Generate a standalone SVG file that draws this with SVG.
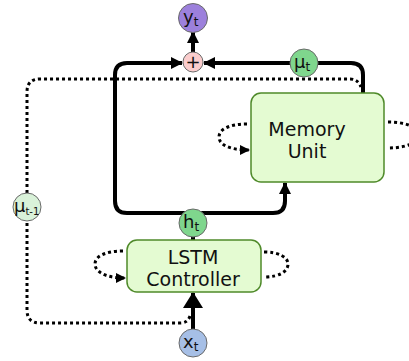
<svg xmlns="http://www.w3.org/2000/svg" width="409" height="361" viewBox="0 0 409 361">
  <defs>
    <marker id="head" viewBox="0 0 12 12" refX="11" refY="6" markerWidth="12" markerHeight="12" markerUnits="userSpaceOnUse" orient="auto">
      <path d="M0,0 L12,6 L0,12 Z" fill="#000"/>
    </marker>
    <marker id="headBig" viewBox="0 0 16 20" refX="15" refY="10" markerWidth="16" markerHeight="20" markerUnits="userSpaceOnUse" orient="auto">
      <path d="M0,0 L16,10 L0,20 Z" fill="#000"/>
    </marker>
    <marker id="dotHead" viewBox="0 0 10 10" refX="9" refY="5" markerWidth="10" markerHeight="10" markerUnits="userSpaceOnUse" orient="auto">
      <path d="M0,0 L10,5 L0,10 Z" fill="#000"/>
    </marker>
  </defs>
  <style>
    .box { fill: #e4fbd2; stroke: #4f8a2a; stroke-width: 1.5; }
    .node { stroke: #6a6a6a; stroke-width: 1; }
    .solid { fill: none; stroke: #000; stroke-width: 4; }
    .dotted { fill: none; stroke: #000; stroke-width: 3; stroke-dasharray: 3 3; }
    .label { font-family: "DejaVu Sans", sans-serif; font-size: 19px; fill: #111; text-anchor: middle; }
    .sym { font-family: "DejaVu Sans", sans-serif; font-size: 18px; fill: #111; }
    .sub { font-size: 12px; }
  </style>

  <!-- connectors -->
  <g id="connectors">
    <!-- memory read-back path (dotted) -->
    <path class="dotted" d="M190,316 Q188,323 180,323 L40,323 Q27,323 27,310 L27,221"/>
    <path class="dotted" d="M27,193 L27,92 Q27,79 40,79 L350,79 Q358,79 361,87"/>
    <!-- recurrent self-loops -->
    <path class="dotted" d="M123,251 C104,251 95,257 95,264 C95,271 104,278 125,278" marker-end="url(#dotHead)"/>
    <path class="dotted" d="M264,252 C280,252 288,258 288,264 C288,271 280,277 264,277"/>
    <path class="dotted" d="M247,124 C228,124 219,130 219,137 C219,144 228,150 249,150" marker-end="url(#dotHead)"/>
    <path class="dotted" d="M388,122 C408,122 418,128 418,135 C418,142 408,148 388,148"/>
    <!-- controller output bus -->
    <path class="solid" d="M193,213 L127,213 Q115,213 115,201 L115,75 Q115,63 127,63 L182,63" marker-end="url(#head)"/>
    <path class="solid" d="M193,213 L273,213 Q285,213 285,201 L285,183" marker-end="url(#head)"/>
    <path class="solid" d="M193,236 L193,240"/>
    <!-- memory output to sum -->
    <path class="solid" d="M363,94 L363,75 Q363,63 351,63 L204,63" marker-end="url(#head)"/>
    <!-- sum to output -->
    <path class="solid" d="M193,52 L193,32" marker-end="url(#head)"/>
    <!-- input to controller -->
    <path class="solid" d="M193,329 L193,293" stroke-width="5" marker-end="url(#headBig)"/>
  </g>

  <g id="memory-unit">
    <rect class="box" x="251" y="93" width="133" height="89" rx="10"/>
    <text class="label" x="307" y="136" font-size="19.5">Memory</text>
    <text class="label" x="307" y="158" font-size="19.5">Unit</text>
  </g>

  <g id="lstm-controller">
    <rect class="box" x="127" y="240" width="134" height="52" rx="10"/>
    <text class="label" x="193" y="263.5">LSTM</text>
    <text class="label" x="193" y="285.5">Controller</text>
  </g>

  <g id="y-t">
    <circle class="node" cx="193" cy="18" r="14.5" fill="#9c80dc"/>
    <text class="sym" x="183" y="23">y<tspan class="sub" dy="3">t</tspan></text>
  </g>

  <g id="sum">
    <circle class="node" cx="193" cy="62" r="10" fill="#fbcdcd"/>
    <text class="sym" x="193" y="68" text-anchor="middle" font-size="17">+</text>
  </g>

  <g id="mu-t">
    <circle class="node" cx="304" cy="63" r="14" fill="#7fd68d"/>
    <text class="sym" x="294" y="68">μ<tspan class="sub" dy="3">t</tspan></text>
  </g>

  <g id="h-t">
    <circle class="node" cx="193" cy="223" r="14" fill="#7fd68d"/>
    <text class="sym" x="183" y="228">h<tspan class="sub" dy="3">t</tspan></text>
  </g>

  <g id="x-t">
    <circle class="node" cx="193" cy="343" r="14" fill="#a6bfe6"/>
    <text class="sym" x="183" y="348">x<tspan class="sub" dy="3">t</tspan></text>
  </g>

  <g id="mu-prev">
    <circle class="node" cx="27" cy="207" r="14" fill="#d9f2d9"/>
    <text class="sym" x="14" y="212" font-size="16">μ<tspan font-size="10" dy="3">t-1</tspan></text>
  </g>
</svg>
